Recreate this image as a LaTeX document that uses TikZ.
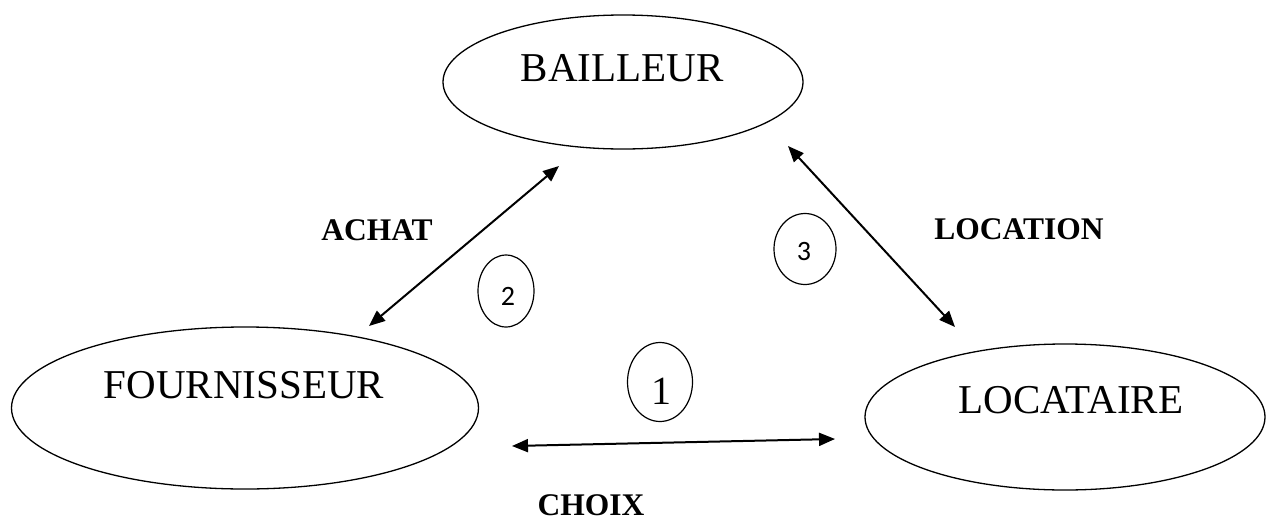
\documentclass[tikz,border=0pt]{standalone}
\usepackage{fontspec}
\setmainfont{Liberation Serif}
\newfontfamily\numfont{Carlito}
\usetikzlibrary{shapes.geometric,arrows.meta}
\tikzset{
  entity/.style={draw, ellipse, line width=1.3pt, inner sep=0pt},
  numring/.style={draw, ellipse, line width=1.2pt, inner sep=0pt},
  bigtext/.style={anchor=base, inner sep=0pt, font=\fontsize{41}{41}\selectfont},
  flowlabel/.style={anchor=base, inner sep=0pt, font=\fontsize{31.5}{31.5}\selectfont\bfseries},
  link/.style={line width=2pt, {Triangle[length=16pt,width=13pt]}-{Triangle[length=16pt,width=13pt]}}
}
\begin{document}
\begin{tikzpicture}[x=1pt,y=-1pt]
\useasboundingbox (0,0) rectangle (1267,517);
% entities
\node[entity, minimum width=360pt, minimum height=134pt] (bail) at (623,82) {};
\node[bigtext] (bailt) at (622,81) {BAILLEUR};
\node[entity, minimum width=467pt, minimum height=162pt] (four) at (245,408) {};
\node[bigtext] (fourt) at (244,398) {FOURNISSEUR};
\node[entity, minimum width=400pt, minimum height=146pt] (loca) at (1065,417) {};
\node[bigtext] (locat) at (1071,413) {LOCATAIRE};
% numbered rings
\node[numring, minimum width=65pt, minimum height=79pt] (r1) at (660,382) {};
\node[anchor=base, inner sep=0pt, font=\fontsize{40}{40}\selectfont] (n1) at (661,404) {1};
\node[numring, minimum width=56pt, minimum height=72pt] (r2) at (506,291) {};
\node[anchor=base, inner sep=0pt, font=\numfont\fontsize{28}{28}\selectfont] (n2) at (508,305) {2};
\node[numring, minimum width=62pt, minimum height=71pt] (r3) at (805,249) {};
\node[anchor=base, inner sep=0pt, font=\numfont\fontsize{28}{28}\selectfont] (n3) at (804,260) {3};
% labels
\node[flowlabel] (achat) at (377,240) {ACHAT};
\node[flowlabel] (location) at (1019,239) {LOCATION};
\node[flowlabel] (choix) at (591,515) {CHOIX};
% arrow ends
\coordinate (a1) at (369,326);
\coordinate (a2) at (559,166);
\coordinate (l1) at (788,146);
\coordinate (l2) at (955,327);
\coordinate (c1) at (512,446);
\coordinate (c2) at (835,439);
\draw[link] (a1) -- (a2);
\draw[link] (l1) -- (l2);
\draw[link] (c1) -- (c2);
\end{tikzpicture}
\end{document}
